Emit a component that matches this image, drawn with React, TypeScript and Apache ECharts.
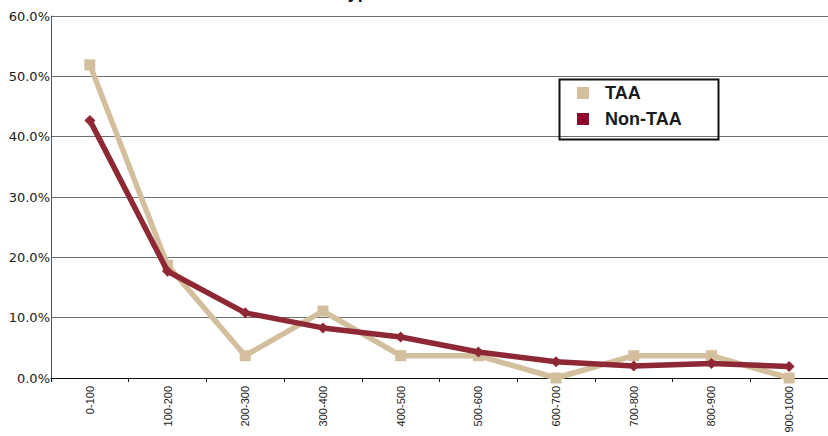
import React, { useEffect, useRef } from "react";
import * as echarts from "echarts";

const categories = ["0-100", "100-200", "200-300", "300-400", "400-500", "500-600", "600-700", "700-800", "800-900", "900-1000"];
const taaValues = [51.9, 18.7, 3.7, 11.1, 3.7, 3.7, 0.0, 3.7, 3.7, 0.0];
const nonTaaValues = [42.7, 17.7, 10.8, 8.3, 6.8, 4.3, 2.7, 2.0, 2.4, 1.9];
const yTicks = { min: 0, max: 60, interval: 10 };

const TAA_COLOR = "#D3BF9D";
const NON_TAA_COLOR = "#8E2834";
const NON_TAA_LEGEND = "#8C0A2C";

export default function App() {
  const ref = useRef<HTMLDivElement>(null);
  useEffect(() => {
    document.body.style.margin = "0";
    if (!ref.current) return;
    const chart = echarts.init(ref.current, null, { renderer: "svg" });
    chart.setOption({
      animation: false,
      backgroundColor: "#ffffff",
      grid: { left: 51, top: 16, right: -8, bottom: 58, containLabel: false },
      xAxis: {
        type: "category",
        data: categories,
        boundaryGap: true,
        axisLine: { show: true, lineStyle: { color: "#111", width: 1 } },
        axisTick: { show: true, length: 4, lineStyle: { color: "#111" } },
        axisLabel: {
          rotate: 90,
          margin: 8,
          fontSize: 11,
          color: "#1a1a1a",
          fontFamily: "Liberation Sans, Arial, sans-serif",
          interval: 0,
        },
        splitLine: { show: false },
      },
      yAxis: {
        type: "value",
        min: yTicks.min,
        max: yTicks.max,
        interval: yTicks.interval,
        axisLine: { show: true, lineStyle: { color: "#555", width: 1 } },
        axisTick: { show: false },
        axisLabel: {
          margin: 1,
          fontSize: 13,
          color: "#1a1a1a",
          fontFamily: "DejaVu Sans, sans-serif",
          formatter: (v: number) => v.toFixed(1) + "%",
        },
        splitLine: { show: true, lineStyle: { color: "#6e6e6e", width: 1 } },
      },
      legend: {
        orient: "vertical",
        left: 577,
        top: 83,
        padding: 0,
        itemGap: 6,
        itemWidth: 12,
        itemHeight: 12,
        icon: "rect",
        textStyle: {
          fontSize: 18,
          fontWeight: "bold",
          color: "#1a1a1a",
          fontFamily: "Liberation Sans, Arial, sans-serif",
          lineHeight: 20,
          padding: [0, 0, 0, 11],
        },
        data: [
          { name: "TAA", itemStyle: { color: TAA_COLOR } },
          { name: "Non-TAA", itemStyle: { color: NON_TAA_LEGEND } },
        ],
      },
      graphic: [
        {
          type: "rect",
          left: 557,
          top: 77,
          shape: { x: 0, y: 0, width: 159, height: 60 },
          style: { fill: "none", stroke: "#111", lineWidth: 2 },
          z: 100,
        },
        {
          type: "text",
          x: 338,
          y: -17,
          style: {
            text: "Type",
            font: "bold 18px Liberation Sans, Arial, sans-serif",
            fill: "#111",
            textVerticalAlign: "top",
          },
        },
      ],
      series: [
        {
          name: "TAA",
          type: "line",
          data: taaValues,
          symbol: "rect",
          symbolSize: 11,
          lineStyle: { color: TAA_COLOR, width: 5.5 },
          itemStyle: { color: TAA_COLOR },
          z: 2,
        },
        {
          name: "Non-TAA",
          type: "line",
          data: nonTaaValues,
          symbol: "diamond",
          symbolSize: 11,
          lineStyle: { color: NON_TAA_COLOR, width: 5.5 },
          itemStyle: { color: NON_TAA_COLOR },
          z: 3,
        },
      ],
    });
    return () => chart.dispose();
  }, []);
  return <div ref={ref} style={{ width: 828, height: 436 }} />;
}
